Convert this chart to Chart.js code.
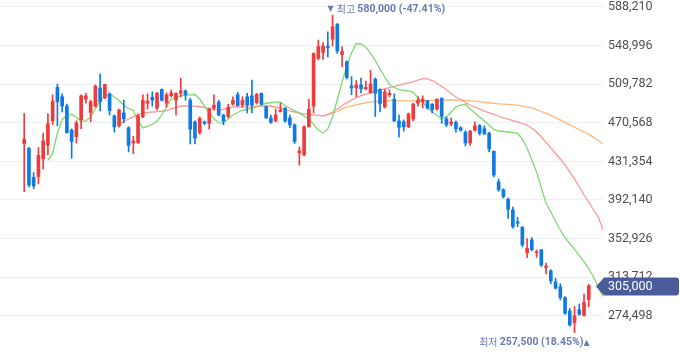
<!DOCTYPE html>
<html><head><meta charset="utf-8">
<script src="https://cdn.jsdelivr.net/npm/chart.js@4.4.0/dist/chart.umd.min.js"></script>
<style>html,body{margin:0;padding:0;background:#fff;}#wrap{width:680px;height:358px;position:relative;}</style>
</head><body><div id="wrap"><canvas id="c" width="680" height="358"></canvas></div>
<script>
const opens = [449500,444500,415000,416000,434000,448000,472500,506500,497000,487500,463000,456500,473500,494500,481000,487500,506000,496000,499500,477500,467500,480500,465500,450000,450500,476500,490500,496500,485500,504500,490500,498000,493500,500500,503000,493500,471500,460500,471500,470000,485500,491500,478500,477000,489500,499000,488500,497000,498000,491000,500500,487000,475500,472500,482000,485500,475500,468500,440000,438000,466500,487500,536000,542000,548500,555500,570500,540000,532500,508000,506000,509000,505000,501000,515000,504500,486500,499000,494500,472500,471500,466500,474500,490500,491500,493000,489500,484500,495500,474500,469500,471000,465500,461000,450000,463000,467500,464500,460000,441500,410500,402500,393000,382000,370000,364500,338500,351500,338500,341500,323500,320000,309000,304000,293000,279500,267500,280500,275000,291000];
const highs = [480000,445500,420000,445500,460000,480000,499000,510000,500000,489500,464500,472500,499000,500500,493500,509000,520000,510000,501000,478500,484500,493500,466500,457000,479500,499000,500000,502000,501500,505000,501000,504000,501000,516000,504000,495500,472500,476500,472500,485500,499000,493500,479000,489500,497000,501500,497000,500500,514000,500500,501000,487500,478500,484500,490500,486000,478500,469500,446000,467500,494500,541500,554500,552000,563000,580000,571500,548000,533500,517500,513500,516000,513000,524000,516000,505000,504500,504000,500000,478500,473500,480500,490500,497000,498000,493500,490000,495000,496000,476500,475500,472500,466500,462500,463000,471500,469000,467500,461000,442000,413500,403500,394000,385000,374500,365000,353000,354000,341500,342000,328000,321500,312500,307000,294000,282000,284000,286500,296500,306500];
const lows = [400500,405500,403500,408500,423500,438000,468500,467500,481500,460000,434500,450000,464500,490500,471500,486500,482500,495000,478500,461000,466000,470500,441000,439000,449500,475500,484500,487500,483500,492500,486500,497000,478500,497000,493500,449000,449000,459000,468500,464000,483500,477500,468500,475500,488500,487500,486500,480500,480500,489500,488500,475000,470000,471500,481500,471000,465500,449500,427500,437000,466000,480500,534500,535000,537500,548500,541000,527500,515000,499000,497000,501000,504000,500500,477000,481500,485500,497000,471500,456000,462000,465500,472500,487500,485500,484500,480500,483500,470000,466500,467500,461000,462000,447000,447500,462000,458000,458500,441000,415500,401000,394000,373500,363500,365000,344500,333500,340500,334000,324500,317000,307000,301500,290500,276000,264000,257500,275000,274000,283500];
const closes = [454000,407500,406500,437500,452000,469500,492500,492000,487500,460500,451500,470500,498000,498000,492000,508000,492000,509500,483000,466500,483500,474500,447500,452000,477500,493500,492500,493500,500500,493500,499000,501000,500500,503000,499000,464000,455000,475000,470000,484500,488500,478500,472500,486500,493500,488000,493500,488500,488500,499500,489500,475500,471000,478500,483500,472500,468500,451500,442000,466500,484500,541000,548000,548500,547000,568000,543500,543000,516500,506000,509000,505000,506500,510000,500500,490000,502000,500500,472500,466000,466500,479500,489500,493500,494500,485500,484000,494500,477000,468500,471500,464500,463000,450000,462000,467500,460000,459500,444000,417500,402500,395500,382500,365000,368500,346500,343000,341500,339500,326000,325000,310000,302500,293000,277000,265000,274500,276000,288000,305000];

const ma5Start = 5;
const ma5 = [432300,439900,460200,473900,478000,479000,475900,471900,472400,476500,484600,492700,497800,500300,496800,493200,488100,485100,483100,472400,465300,466800,469300,471900,478500,486600,494700,496800,497800,498800,499000,499300,494700,487600,481000,474400,470700,470400,474400,478500,481000,483300,484300,485100,486600,488900,490400,490900,491500,491700,488100,485300,482900,480400,477500,474100,468800,463200,460200,464300,476500,494200,512000,528300,541500,551100,550600,547600,541200,533900,525200,517100,509500,506400,504300,503400,502900,501300,496300,491200,486100,481500,478000,474400,476500,481500,486900,488600,489400,484800,480200,476500,472400,468300,463800,462200,461700,461200,460500,459700,454100,445000,432800,420600,404300,389100,379900,370300,361600,354000,347900,342300,335700,329600,322500,313900,303700,293900];
const ma20Start = 20;
const ma20 = [469800,471900,474400,476800,478800,480700,481200,481500,481800,482300,482900,484600,486200,487600,487600,487600,487400,487100,486100,485100,484100,483300,484100,485600,486800,486600,486400,486400,486800,487300,487600,487600,487600,486600,485400,483900,482700,481500,480300,479700,479100,478500,478000,477500,479000,481500,484600,487900,491100,493500,496000,498200,499600,501200,502700,503900,505100,506400,507500,508800,510000,511200,512300,514000,515500,515100,513500,510700,507600,503900,500300,496800,494200,491200,488600,486600,484600,482500,480700,479000,477200,475600,474200,472800,471400,469800,468000,464800,461500,456100,450700,445000,439400,433800,427700,420600,413500,405300,397200,390100,382200,374800,362000];
const ma60Start = 63;
const ma60 = [477300,478500,480000,482000,484600,486400,487600,488800,489900,490700,491500,492100,492500,492900,493000,493000,493000,492900,492900,492800,492700,492800,493100,493300,493600,493700,493700,493700,493700,493700,493300,492900,492500,492100,491400,490900,490300,489800,489500,489200,488800,488500,487600,486500,485600,484000,482000,480100,478000,475600,473200,470900,468400,466000,463500,461200,458800,455700,452600,449000];

const yTicks = [588210,548996,509782,470568,431354,392140,352926,313712,274498];
const tickLabels = ['588,210','548,996','509,782','470,568','431,354','392,140','352,926','313,712','274,498'];

const UP = '#ef3b3b', DOWN = '#0f7ae6';
const idx = closes.map((_, i) => i);
const candleColors = idx.map(i => closes[i] >= opens[i] ? UP : DOWN);
const toLine = (arr, start) => arr.map((v, k) => ({ x: start + k, y: v }));

const markers = {
  id: 'markers',
  afterDraw(chart) {
    const { ctx, chartArea, scales: { x, y } } = chart;
    const hiIdx = highs.indexOf(Math.max(...highs));
    const loIdx = lows.indexOf(Math.min(...lows));
    const hi = highs[hiIdx], lo = lows[loIdx], last = closes[closes.length - 1];
    const fmt = v => v.toLocaleString('en-US');
    const pct = v => ((last - v) / v * 100).toFixed(2);
    ctx.save();
    ctx.fillStyle = '#6a7bb4';
    ctx.textBaseline = 'middle';
    ctx.textAlign = 'left';
    const fK = '10px "Noto Sans CJK KR", sans-serif';
    const fA = '8px "DejaVu Sans", sans-serif';
    const fB = 'bold 10.5px Roboto, sans-serif';
    // high marker
    let tx = x.getPixelForValue(hiIdx) - 5, ty = y.getPixelForValue(hi) - 6;
    ctx.font = fA;
    ctx.fillText('\u25BC', tx, ty);
    tx += ctx.measureText('\u25BC').width + 3;
    ctx.font = fK;
    const a1 = '\uCD5C\uACE0 ';
    ctx.fillText(a1, tx, ty);
    tx += ctx.measureText(a1).width;
    ctx.font = fB;
    ctx.fillText(fmt(hi) + ' (' + pct(hi) + '%)', tx, ty);
    // low marker (right aligned)
    let rx = x.getPixelForValue(loIdx) + 15, ry = y.getPixelForValue(lo) + 10;
    ctx.textAlign = 'right';
    ctx.font = fA;
    ctx.fillText('\u25B2', rx, ry);
    rx -= ctx.measureText('\u25B2').width;
    ctx.font = fB;
    const b2 = fmt(lo) + ' (' + pct(lo) + '%)';
    ctx.fillText(b2, rx, ry);
    rx -= ctx.measureText(b2).width;
    ctx.font = fK;
    ctx.fillText('\uCD5C\uC800 ', rx, ry);
    // current price tag
    const yc = Math.round(y.getPixelForValue(last)) + 0.5;
    const left = chartArea.right - 7, bodyL = chartArea.right + 1, right = chart.width - 1, h = 9, r = 3;
    ctx.beginPath();
    ctx.moveTo(left, yc);
    ctx.lineTo(bodyL, yc - h);
    ctx.lineTo(right - r, yc - h);
    ctx.arcTo(right, yc - h, right, yc - h + r, r);
    ctx.lineTo(right, yc + h - r);
    ctx.arcTo(right, yc + h, right - r, yc + h, r);
    ctx.lineTo(bodyL, yc + h);
    ctx.closePath();
    ctx.fillStyle = '#4a5c9a';
    ctx.fill();
    ctx.fillStyle = '#ffffff';
    ctx.textAlign = 'left';
    ctx.font = '12.5px Roboto, sans-serif';
    ctx.fillText(fmt(last), chartArea.right + 5, yc);
    ctx.restore();
  }
};

new Chart(document.getElementById('c'), {
  type: 'bar',
  data: {
    datasets: [
      { type: 'bar', label: 'body', order: 0, grouped: false, barThickness: 3, minBarLength: 1,
        data: idx.map(i => ({ x: i, y: [opens[i], closes[i]] })), backgroundColor: candleColors },
      { type: 'bar', label: 'wick', order: 1, grouped: false, barThickness: 1, minBarLength: 1,
        data: idx.map(i => ({ x: i, y: [lows[i], highs[i]] })), backgroundColor: candleColors },
      { type: 'line', label: 'MA5', order: 2, data: toLine(ma5, ma5Start), borderColor: '#80d872', borderWidth: 1.3, pointRadius: 0, tension: 0, fill: false },
      { type: 'line', label: 'MA20', order: 3, data: toLine(ma20, ma20Start), borderColor: '#ff9797', borderWidth: 1.3, pointRadius: 0, tension: 0, fill: false },
      { type: 'line', label: 'MA60', order: 4, data: toLine(ma60, ma60Start), borderColor: '#ffb67a', borderWidth: 1.3, pointRadius: 0, tension: 0, fill: false }
    ]
  },
  options: {
    responsive: false,
    devicePixelRatio: 1,
    animation: false,
    layout: { padding: 0 },
    plugins: { legend: { display: false }, tooltip: { enabled: false } },
    scales: {
      x: { type: 'linear', min: -5.1, max: 122, offset: false, display: false, grid: { display: false } },
      y: {
        position: 'right', min: 231600, max: 595300,
        afterBuildTicks: s => { s.ticks = yTicks.map(v => ({ value: v })); },
        afterFit: s => { s.width = 77; s.paddingTop = 0; s.paddingBottom = 0; },
        border: { display: false },
        grid: { color: '#eceff3', lineWidth: 1, drawTicks: false },
        ticks: { padding: 5, color: '#505050', font: { family: 'Roboto', size: 12.5 },
          callback: (v, i) => tickLabels[i] }
      }
    }
  },
  plugins: [markers]
});
</script>
</body></html>
